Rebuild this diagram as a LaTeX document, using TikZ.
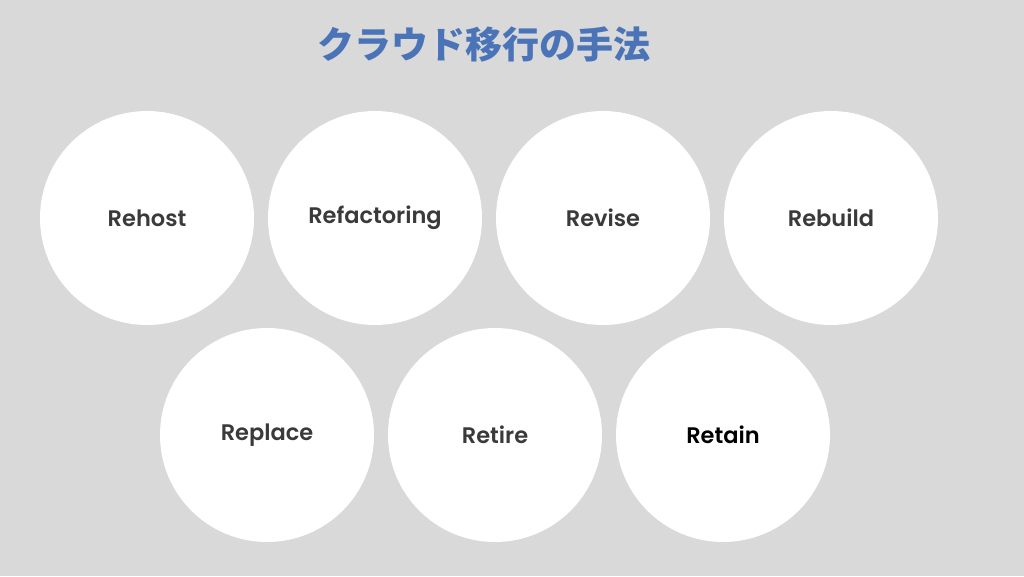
\documentclass[tikz,border=0pt]{standalone}
\usepackage{fontspec}
\setmainfont{Poppins}[BoldFont={Poppins SemiBold}]
\newfontfamily\cjk{Noto Sans CJK JP}
\definecolor{bg}{HTML}{D9D9D9}
\definecolor{ttl}{HTML}{4A73B8}
\definecolor{txt}{HTML}{3A3A3A}
\begin{document}
\begin{tikzpicture}[x=1pt,y=-1pt,
  disc/.style={circle,fill=white,minimum size=214pt,inner sep=0pt,font=\bfseries\fontsize{22.5}{24}\selectfont,text=txt}]
\fill[bg] (0,0) rectangle (1024,576);
\useasboundingbox (0,0) rectangle (1024,576);
\node[font=\cjk\bfseries\fontsize{37}{42}\selectfont,text=ttl] (title) at (484,44) {クラウド移行の手法};
\node[disc] (a) at (147,218) {Rehost};
\node[disc] (b) at (375,218) {Refactoring};
\node[disc] (c) at (603,218) {Revise};
\node[disc] (d) at (831,218) {Rebuild};
\node[disc] (e) at (267,435) {Replace};
\node[disc] (f) at (495,435) {Retire};
\node[disc,text=black] (g) at (723,435) {Retain};
\end{tikzpicture}
\end{document}
